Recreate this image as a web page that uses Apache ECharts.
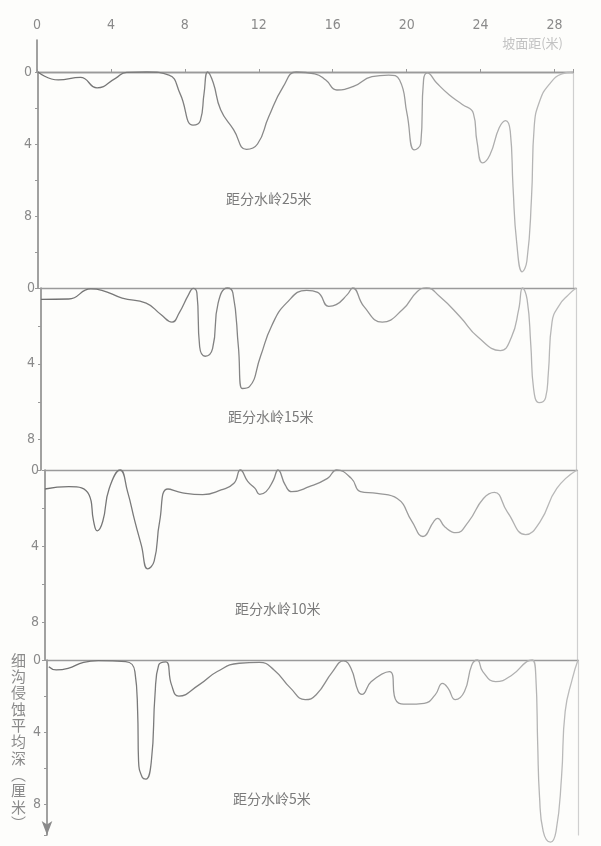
<!DOCTYPE html>
<html><head><meta charset="utf-8">
<script src="https://cdn.jsdelivr.net/npm/echarts@6/dist/echarts.min.js"></script>
<style>html,body{margin:0;padding:0;background:#fdfdfb;}#c{width:601px;height:846px;}</style>
</head><body><div id="c"></div>
<script>
// distance along slope (m), mean rill depth (cm)
const xTicks = [0, 4, 8, 12, 16, 20, 24, 28];
const yTickLabels = [0, 4, 8];
const panelNames = ['距分水岭25米', '距分水岭15米', '距分水岭10米', '距分水岭5米'];

const curve25 = [[0,0],[1.1,0.44],[2.3,0.3],[3.2,0.88],[4.2,0.35],[4.8,0.02],[5.9,0],[7.1,0.17],[7.7,1.2],[8.4,2.95],[8.8,2.7],[9.0,1.2],[9.2,0],[9.5,0.6],[9.9,2.1],[10.6,3.2],[11.3,4.3],[11.9,4.0],[12.5,2.5],[13.3,0.8],[14.0,0],[15.0,0.1],[15.6,0.45],[16.2,1.0],[17.1,0.8],[18.1,0.26],[19.0,0.17],[19.6,0.44],[20.0,2.3],[20.4,4.33],[20.75,3.96],[20.9,0.44],[21.1,0.05],[21.6,0.6],[22.3,1.28],[23.0,1.8],[23.6,2.3],[23.8,3.9],[24.1,5.05],[24.5,4.6],[25.0,3.1],[25.35,2.7],[25.6,3.3],[25.75,6.4],[25.95,9.5],[26.25,11.1],[26.5,10.5],[26.75,7.0],[26.9,3.0],[27.2,1.6],[27.7,0.7],[28.4,0.1],[29.0,0]];
const curve15 = [[0,0.6],[1.5,0.58],[2.7,0.05],[3.3,0.12],[4.4,0.53],[5.7,0.8],[6.5,1.4],[7.1,1.8],[7.5,1.3],[8.0,0.35],[8.25,0.02],[8.45,0.26],[8.6,3.1],[8.9,3.6],[9.3,3.2],[9.6,0.8],[10.1,0],[10.4,0.26],[10.7,3.1],[10.9,5.3],[11.3,5.2],[11.9,3.6],[12.5,2.0],[13.3,0.8],[14.4,0.12],[15.0,0.23],[15.6,0.97],[16.0,0.88],[16.6,0.35],[16.9,0],[17.5,0.97],[18.5,1.8],[19.6,1.14],[20.4,0.18],[20.9,0],[21.6,0.44],[22.7,1.5],[23.7,2.6],[24.9,3.3],[25.5,2.6],[25.9,1.1],[26.1,0],[26.35,0.6],[26.55,3.0],[26.7,5.3],[27.0,6.05],[27.35,5.8],[27.5,4.5],[27.7,1.8],[28.1,0.9],[28.6,0.35],[29.0,0]];
const curve10 = [[0,1.0],[1.3,0.88],[2.4,1.3],[2.65,2.7],[2.85,3.2],[3.15,2.7],[3.5,0.97],[4.1,0],[4.5,1.14],[4.9,2.7],[5.25,3.95],[5.6,5.2],[5.95,4.8],[6.25,2.7],[6.7,1.0],[7.5,1.2],[8.6,1.3],[9.6,1.05],[10.3,0.7],[10.65,0],[11.05,0.6],[11.45,0.97],[11.7,1.28],[12.05,1.14],[12.45,0.53],[12.7,0],[13.1,0.8],[13.45,1.14],[14.4,0.88],[15.4,0.44],[15.9,0],[16.7,0.44],[17.2,1.14],[18.1,1.23],[19.2,1.5],[20.0,2.7],[20.6,3.5],[21.2,2.7],[21.4,2.55],[21.8,3.0],[22.4,3.3],[23.1,2.7],[23.9,1.5],[24.5,1.18],[25.2,2.2],[26.2,3.4],[27.0,2.7],[27.9,0.97],[29.0,0]];
const curve5 = [[0.1,0.37],[0.5,0.55],[1.15,0.46],[2.0,0.13],[2.8,0.04],[4.3,0.09],[4.8,0.64],[4.95,2.85],[5.0,5.6],[5.2,6.5],[5.4,6.6],[5.7,5.6],[5.9,1.9],[6.1,0.28],[6.5,0.1],[6.8,1.38],[7.2,2.0],[8.3,1.38],[9.3,0.64],[10.5,0.18],[11.6,0.13],[12.4,0.55],[13.3,1.56],[14.1,2.2],[14.7,1.93],[15.6,0.64],[16.2,0.05],[16.6,0.46],[17.0,1.75],[17.2,1.9],[17.7,1.2],[18.7,0.64],[19.1,2.3],[19.7,2.45],[20.6,2.4],[21.2,1.93],[21.6,1.3],[21.9,1.56],[22.3,2.2],[22.8,1.75],[23.2,0.28],[23.5,0],[23.8,0.64],[24.5,1.2],[25.4,0.83],[26.2,0.09],[26.5,0],[26.7,1.0],[26.8,4.7],[26.9,7.6],[27.1,9.5],[27.5,10.1],[27.8,9.5],[28.1,6.5],[28.3,2.85],[28.7,1.0],[29.0,0]];
const curves = [curve25, curve15, curve10, curve5];

const panelTop = [72, 288, 470, 660];
const panelHeight = [216, 182, 190, 175];
const panelMax = [12, 9.6, 10, 9.7];
const panelLeft = [38, 41, 45, 47];
const panelRight = [28, 25, 24, 23];
const labelTop = [192, 410, 602, 792];
const labelLeft = [226, 228, 235, 233];

const fontNum = "'Liberation Sans Narrow','DejaVu Sans Condensed',sans-serif";
const fontCJK = "'Noto Sans CJK SC',sans-serif";

const grid = [{left: 37, right: 28, top: 40, height: 32}];
const xAxis = [{
  gridIndex: 0, type: 'value', position: 'top', min: 0, max: 29, interval: 4,
  axisLine: {show: true, lineStyle: {color: '#8c8c8c', width: 1.4}},
  axisTick: {show: true, length: 3, lineStyle: {color: '#999'}},
  splitLine: {show: false},
  axisLabel: {show: true, color: '#8a8a8a', fontSize: 14, fontFamily: fontNum, margin: 8,
    formatter: v => xTicks.includes(v) ? String(v) : ''}
}];
const yAxis = [{
  gridIndex: 0, type: 'value', min: 0, max: 1, position: 'left',
  axisLine: {show: true, lineStyle: {color: '#8a8a8a', width: 1.6}},
  axisTick: {show: false}, axisLabel: {show: false}, splitLine: {show: false}
}];
const series = [];
const titles = [];

for (let i = 0; i < 4; i++) {
  const g = i + 1;
  grid.push({left: panelLeft[i], right: panelRight[i], top: panelTop[i], height: panelHeight[i]});
  xAxis.push({
    gridIndex: g, type: 'value', position: 'top', min: 0, max: 29,
    axisLine: {show: true, onZero: false, lineStyle: {color: '#9a9a9a', width: 1.3}},
    axisTick: {show: false}, axisLabel: {show: false}, splitLine: {show: false}
  });
  yAxis.push({
    gridIndex: g, type: 'value', inverse: true, min: 0, max: panelMax[i], interval: 2, position: 'left',
    axisLine: {show: true, onZero: false, lineStyle: {color: '#8a8a8a', width: 1.6},
      symbol: i === 3 ? ['arrow', 'none'] : ['none', 'none'], symbolSize: [8, 14]},
    axisTick: {show: true, length: 3, lineStyle: {color: '#999'}},
    axisLabel: {show: true, color: '#8a8a8a', fontSize: 14, fontFamily: fontNum, margin: 6,
      formatter: v => yTickLabels.includes(v) ? String(v) : ''},
    splitLine: {show: false}
  });
  yAxis.push({
    gridIndex: g, type: 'value', inverse: true, min: 0, max: panelMax[i], position: 'right',
    axisLine: {show: true, onZero: false, lineStyle: {color: '#cfcfcf', width: 1.2}},
    axisTick: {show: false}, axisLabel: {show: false}, splitLine: {show: false}
  });
  series.push({
    type: 'line', xAxisIndex: g, yAxisIndex: 1 + i * 2, data: curves[i],
    smooth: 0.5, showSymbol: false, clip: false, silent: true,
    lineStyle: {width: 1.3, color: {type: 'linear', x: 0, y: 0, x2: 1, y2: 0,
      colorStops: [{offset: 0, color: '#707070'}, {offset: 0.55, color: '#8e8e8e'}, {offset: 1, color: '#bdbdbd'}]}}
  });
  titles.push({text: panelNames[i], left: labelLeft[i], top: labelTop[i], padding: 0,
    textStyle: {fontSize: 14, fontWeight: 'normal', color: '#7a7a7a', fontFamily: fontCJK}});
}

titles.push({text: '坡面距(米)', right: 38, top: 37, padding: 0,
  textStyle: {fontSize: 13, fontWeight: 'normal', color: '#c2c2c2', fontFamily: fontCJK}});
titles.push({text: '细\n沟\n侵\n蚀\n平\n均\n深\n︵\n厘\n米\n︶', left: 11, top: 652, padding: 0,
  textStyle: {fontSize: 15, lineHeight: 16.3, fontWeight: 'normal', color: '#8a8a8a', fontFamily: fontCJK}});

const chart = echarts.init(document.getElementById('c'), null, {renderer: 'canvas'});
chart.setOption({
  backgroundColor: '#fdfdfb',
  animation: false,
  title: titles,
  grid: grid,
  xAxis: xAxis,
  yAxis: yAxis,
  series: series
});
</script></body></html>
